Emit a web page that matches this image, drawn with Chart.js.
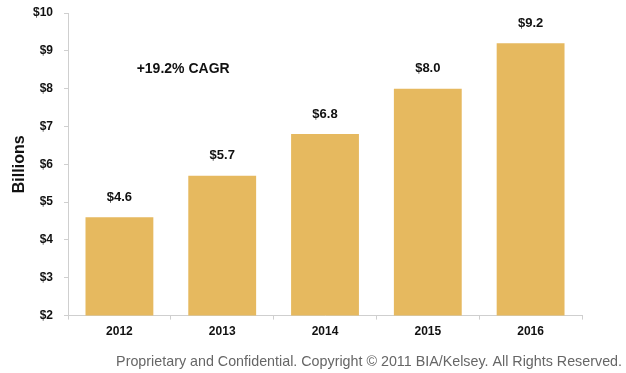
<!DOCTYPE html>
<html>
<head>
<meta charset="utf-8">
<script src="https://cdn.jsdelivr.net/npm/chart.js@4"></script>
<style>
  html, body { margin: 0; padding: 0; background: #fff; }
  #wrap { width: 626px; height: 373px; }
</style>
</head>
<body>
<div id="wrap"><canvas id="chart"></canvas></div>
<script>
const years = ["2012", "2013", "2014", "2015", "2016"];
const revenue = [4.6, 5.7, 6.8, 8.0, 9.2];
const yTicks = [2, 3, 4, 5, 6, 7, 8, 9, 10];
const yTitle = "Billions";
const cagrNote = "+19.2% CAGR";
const footer = "Proprietary and Confidential. Copyright \u00A9 2011 BIA/Kelsey. All Rights Reserved.";

const FONT = "Arial, 'Liberation Sans', sans-serif";

// value labels above bars, the CAGR note, axis title and the footer line
const annotations = {
  id: "annotations",
  afterDatasetsDraw(chart) {
    const ctx = chart.ctx;
    const area = chart.chartArea;
    const meta = chart.getDatasetMeta(0);
    ctx.save();
    ctx.font = "bold 13px " + FONT;
    ctx.fillStyle = "#111";
    ctx.textAlign = "center";
    ctx.textBaseline = "middle";
    meta.data.forEach((bar, i) => {
      ctx.fillText("$" + revenue[i].toFixed(1), bar.x, bar.y - 20);
    });
    const xs = chart.scales.x, ys = chart.scales.y;
    ctx.font = "bold 14px " + FONT;
    ctx.fillText(cagrNote, xs.getPixelForValue(0.62), ys.getPixelForValue(8.52));

    ctx.save();
    ctx.translate(20, (area.top + area.bottom) / 2);
    ctx.rotate(-Math.PI / 2);
    ctx.font = "bold 16px " + FONT;
    ctx.fillText(yTitle, 0, 0);
    ctx.restore();

    ctx.font = "14.3px " + FONT;
    ctx.fillStyle = "#666";
    ctx.textAlign = "right";
    ctx.fillText(footer, chart.width - 4, chart.height - 11);
    ctx.restore();
  },
};

const config = {
  type: "bar",
  data: {
    labels: years,
    datasets: [
      {
        label: "Revenue",
        data: revenue,
        backgroundColor: "#E6B95F",
        borderWidth: 0,
        barPercentage: 0.66,
        categoryPercentage: 1,
      },
    ],
  },
  options: {
    responsive: true,
    maintainAspectRatio: false,
    animation: false,
    layout: {
      padding: { left: 22, right: 44, top: 13, bottom: 29 },
    },
    scales: {
      x: {
        grid: {
          drawOnChartArea: false,
          drawTicks: true,
          tickLength: 4,
          color: "#cfcfcf",
        },
        border: { color: "#cfcfcf", width: 1 },
        ticks: {
          color: "#111",
          font: { family: FONT, size: 12, weight: "bold" },
          padding: 5,
        },
      },
      y: {
        min: 2,
        max: 10,
        afterBuildTicks(axis) {
          axis.ticks = yTicks.map((v) => ({ value: v }));
        },
        afterFit(axis) {
          axis.paddingTop = 0;
          axis.paddingBottom = 0;
        },
        grid: {
          drawOnChartArea: false,
          drawTicks: true,
          tickLength: 4,
          color: "#cfcfcf",
        },
        border: { color: "#cfcfcf", width: 1 },
        ticks: {
          color: "#111",
          font: { family: FONT, size: 12, weight: "bold" },
          padding: 11,
          callback: (v) => "$" + v,
        },
      },
    },
    plugins: {
      legend: { display: false },
      tooltip: { enabled: false },
    },
  },
  plugins: [annotations],
};

new Chart(document.getElementById("chart"), config);
</script>
</body>
</html>
